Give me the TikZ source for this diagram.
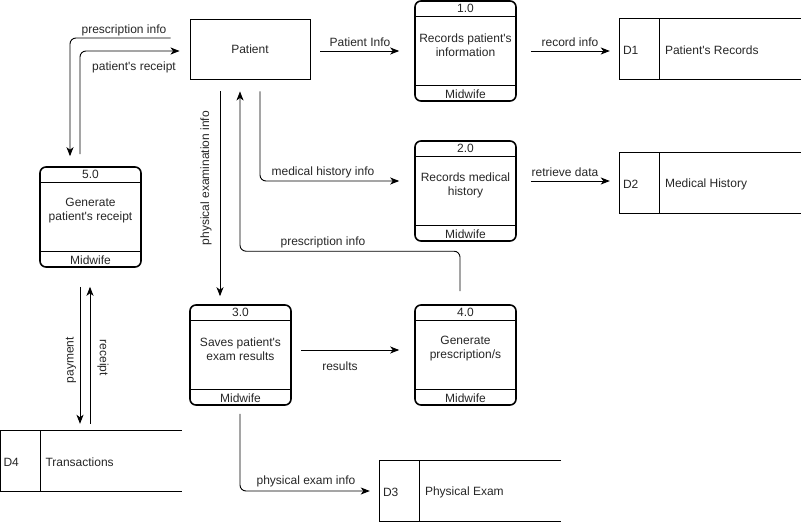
\documentclass[tikz,border=0pt]{standalone}
\usepackage{fontspec}
\setmainfont{Liberation Sans}
\usetikzlibrary{arrows.meta}
\newcommand{\aq}{\textquotesingle}
\begin{document}
\begin{tikzpicture}[x=1pt,y=-1pt,
  every node/.style={font=\fontsize{12}{14}\selectfont, inner sep=0pt, text=black!85},
  ext/.style={draw, line width=0.9pt, minimum width=120pt, minimum height=60pt},
  proc/.style={draw, line width=1.6pt, rounded corners=6pt, minimum width=101pt, minimum height=100pt},
  store/.style={minimum width=181pt, minimum height=60pt},
  flow/.style={line width=0.9pt, -{Stealth[length=9pt,width=7pt,inset=2.5pt]}, rounded corners=6pt},
  lbl/.style={align=center},
  inner/.style={align=center}
]
\useasboundingbox (0,0) rectangle (801,522);

% external entity
\node[ext] (pat) at (250,49) {\raisebox{-1.5pt}{Patient}};

% processes
\newcommand{\procdetails}[3]{%
  \draw[line width=0.9pt] ([yshift=-16pt]#1.north west) -- ([yshift=-16pt]#1.north east);
  \draw[line width=0.9pt] ([yshift=16pt]#1.south west) -- ([yshift=16pt]#1.south east);
  \node[inner] (#1num) at ([yshift=-8.5pt]#1.north) {#2};
  \node[inner] (#1txt) at ([yshift=6pt]#1.center) {#3};
  \node[inner] (#1who) at ([yshift=7.5pt]#1.south) {Midwife};
}
\node[proc] (p1) at (465.5,51) {};
\procdetails{p1}{1.0}{Records patient\aq s\\information}
\node[proc] (p2) at (465.5,191) {};
\procdetails{p2}{2.0}{Records medical\\history}
\node[proc] (p3) at (240.5,355) {};
\procdetails{p3}{3.0}{Saves patient\aq s\\exam results}
\node[proc] (p4) at (465.5,355) {};
\procdetails{p4}{4.0}{Generate\\prescription/s}
\node[proc] (p5) at (90.5,217) {};
\procdetails{p5}{5.0}{Generate\\patient\aq s receipt}

% data stores
\newcommand{\storedetails}[3]{%
  \draw[line width=0.9pt] (#1.north east) -- (#1.north west) -- (#1.south west) -- (#1.south east);
  \draw[line width=0.9pt] ([xshift=40pt]#1.north west) -- ([xshift=40pt]#1.south west);
  \node[anchor=west] (#1id) at ([xshift=3pt,yshift=-1pt]#1.west) {#2};
  \node[anchor=west] (#1name) at ([xshift=45pt,yshift=-1pt]#1.west) {#3};
}
\node[store] (d1) at (710.5,49) {};
\storedetails{d1}{D1}{Patient\aq s Records}
\node[store] (d2) at (710.5,183) {};
\storedetails{d2}{D2}{Medical History}
\node[store] (d3) at (470.5,491) {};
\storedetails{d3}{D3}{Physical Exam}
\node[store] (d4) at (91,461) {};
\storedetails{d4}{D4}{Transactions}

% flows
\draw[flow, shorten <=10pt, shorten >=15pt] ([yshift=-2pt]pat.east) -- ([yshift=-2pt]pat.east -| p1.west);
\node[lbl] (lpi) at (360,42) {Patient Info};

\draw[flow, shorten <=14pt, shorten >=10pt] (p1.east) -- (p1.east -| d1.west);
\node[lbl] (lri) at (570,42) {record info};

\draw[flow, shorten <=12pt, shorten >=15pt] ([xshift=10pt]pat.south) |- ([yshift=10pt]p2.west);
\node[lbl] (lmh) at (323,172) {medical history info};

\draw[flow, shorten <=14pt, shorten >=10pt] ([yshift=10pt]p2.east) -- ([yshift=10pt]p2.east -| d2.west);
\node[lbl] (lrd) at (565,172) {retrieve data};

\draw[flow, shorten <=12pt, shorten >=8pt] ([xshift=-30pt]pat.south) -- ([xshift=-20.5pt]p3.north);
\node[lbl, rotate=90] (lpe) at (206,178) {physical examination info};

\draw[flow, shorten <=13pt, shorten >=12pt] ([xshift=-5.5pt]p4.north) -- ++(0,-53) -| ([xshift=-10pt]pat.south);
\node[lbl] (lp4) at (323,242) {prescription info};

\draw[flow, shorten <=9.5pt, shorten >=15pt] ([yshift=5pt]p3.east) -- ([yshift=5pt]p4.west);
\node[lbl] (lres) at (340,366) {results};

\draw[flow, shorten <=8pt, shorten >=10pt] ([xshift=-0.5pt]p3.south) |- (d3.west);
\node[lbl] (lpx) at (306,481) {physical exam info};

\draw[flow, shorten <=19pt, shorten >=10pt] ([yshift=11pt]pat.west) -| ([xshift=-20.5pt]p5.north);
\node[lbl] (lp5) at (124,30) {prescription info};

\draw[flow, shorten <=12pt, shorten >=10pt] ([xshift=-10.5pt]p5.north) |- ([yshift=-2pt]pat.west);
\node[lbl] (lpr) at (134,67) {patient\aq s receipt};

\draw[flow, shorten <=19pt, shorten >=7pt] ([xshift=-10.5pt]p5.south) -- ([xshift=-11pt]d4.north);
\node[lbl, rotate=90] (lpay) at (71,360) {payment};

\draw[flow, shorten <=7pt, shorten >=19pt] ([xshift=-1pt]d4.north) -- ([xshift=-0.5pt]p5.south);
\node[lbl, rotate=-90] (lrec) at (103,358) {receipt};
\end{tikzpicture}
\end{document}
